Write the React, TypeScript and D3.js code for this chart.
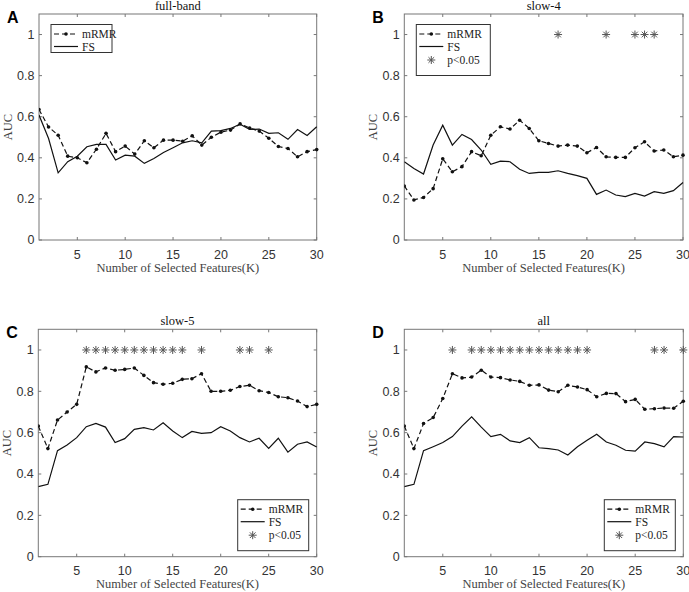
import React from "react";
import * as d3 from "d3";

const K = d3.range(1, 31);
const xTicks = [5, 10, 15, 20, 25, 30];
const yTicks = [0, 0.2, 0.4, 0.6, 0.8, 1];

const mrmrA = [0.635, 0.55, 0.51, 0.408, 0.4, 0.376, 0.442, 0.519, 0.43, 0.457, 0.418, 0.483, 0.449, 0.486, 0.486, 0.481, 0.507, 0.462, 0.5, 0.525, 0.535, 0.565, 0.545, 0.53, 0.495, 0.455, 0.445, 0.405, 0.43, 0.44];
const fsA = [0.608, 0.494, 0.327, 0.381, 0.408, 0.454, 0.465, 0.465, 0.389, 0.413, 0.408, 0.373, 0.397, 0.426, 0.449, 0.473, 0.483, 0.473, 0.53, 0.532, 0.543, 0.564, 0.538, 0.54, 0.519, 0.522, 0.49, 0.538, 0.509, 0.551];
const starsA: number[] = [];

const mrmrB = [0.263, 0.195, 0.207, 0.25, 0.395, 0.332, 0.357, 0.43, 0.41, 0.51, 0.551, 0.54, 0.583, 0.543, 0.483, 0.47, 0.457, 0.462, 0.457, 0.425, 0.45, 0.405, 0.402, 0.402, 0.449, 0.478, 0.433, 0.438, 0.405, 0.413];
const fsB = [0.381, 0.348, 0.321, 0.462, 0.559, 0.462, 0.514, 0.489, 0.438, 0.368, 0.384, 0.381, 0.344, 0.324, 0.329, 0.329, 0.337, 0.324, 0.313, 0.3, 0.222, 0.243, 0.219, 0.211, 0.227, 0.214, 0.235, 0.227, 0.24, 0.28];
const starsB = [17, 22, 25, 26, 27];

const mrmrC = [0.632, 0.523, 0.661, 0.7, 0.737, 0.918, 0.894, 0.913, 0.902, 0.906, 0.913, 0.877, 0.842, 0.834, 0.839, 0.858, 0.861, 0.885, 0.8, 0.8, 0.805, 0.823, 0.829, 0.803, 0.794, 0.774, 0.769, 0.753, 0.726, 0.737];
const fsC = [0.339, 0.35, 0.513, 0.54, 0.576, 0.629, 0.645, 0.627, 0.552, 0.571, 0.616, 0.624, 0.613, 0.648, 0.608, 0.576, 0.606, 0.597, 0.6, 0.629, 0.608, 0.576, 0.555, 0.573, 0.524, 0.573, 0.506, 0.544, 0.555, 0.531];
const starsC = [6, 7, 8, 9, 10, 11, 12, 13, 14, 15, 16, 18, 22, 23, 25];

const mrmrD = [0.632, 0.523, 0.644, 0.673, 0.765, 0.885, 0.865, 0.869, 0.902, 0.869, 0.866, 0.855, 0.848, 0.829, 0.831, 0.806, 0.798, 0.829, 0.821, 0.808, 0.774, 0.79, 0.789, 0.75, 0.761, 0.713, 0.716, 0.719, 0.718, 0.752];
const fsD = [0.339, 0.35, 0.513, 0.532, 0.552, 0.581, 0.632, 0.677, 0.627, 0.581, 0.592, 0.56, 0.552, 0.576, 0.527, 0.523, 0.516, 0.492, 0.532, 0.563, 0.592, 0.555, 0.539, 0.515, 0.511, 0.555, 0.547, 0.531, 0.581, 0.579];
const starsD = [6, 8, 9, 10, 11, 12, 13, 14, 15, 16, 17, 18, 19, 20, 27, 28, 30];

const panels = [
  { letter: "A", title: "full-band", mrmr: mrmrA, fs: fsA, stars: starsA, left: 39, right: 316.7, top: 14, bottom: 240, legend: "tl" },
  { letter: "B", title: "slow-4", mrmr: mrmrB, fs: fsB, stars: starsB, left: 404.3, right: 683, top: 14, bottom: 240, legend: "tl" },
  { letter: "C", title: "slow-5", mrmr: mrmrC, fs: fsC, stars: starsC, left: 38.3, right: 316.7, top: 329.3, bottom: 556.7, legend: "br" },
  { letter: "D", title: "all", mrmr: mrmrD, fs: fsD, stars: starsD, left: 404.3, right: 683.3, top: 329.3, bottom: 556.7, legend: "br" },
];

const AXIS = "#777";
const TXT = "#333";
const STAR = "#555";
const SERIF = "'Liberation Serif', 'Times New Roman', serif";
const SANS = "'Liberation Sans', Arial, sans-serif";

function Star({ x, y, s = 4 }: { x: number; y: number; s?: number }) {
  const d = s * 0.707;
  return (
    <path
      d={`M${x - s},${y}L${x + s},${y}M${x},${y - s}L${x},${y + s}M${x - d},${y - d}L${x + d},${y + d}M${x - d},${y + d}L${x + d},${y - d}`}
      stroke={STAR}
      strokeWidth={1}
      fill="none"
    />
  );
}

function Panel({ p, idx }: { p: any; idx: number }) {
  const x = d3.scaleLinear().domain([1, 30]).range([p.left, p.right]);
  const y = d3.scaleLinear().domain([0, 1.1]).range([p.bottom, p.top]);
  const line = d3.line<number>().x((_, i) => x(K[i])).y((v) => y(v));
  const clipId = `clip${idx}`;
  const hasStars = p.stars.length > 0;
  const lw = p.legend === "tl" ? (hasStars ? 74 : 61) : 71;
  const lh = hasStars ? 51 : 28;
  const lx0 = p.legend === "tl" ? p.left + 12 : p.right - lw - 8;
  const ly0 = p.legend === "tl" ? p.top + 10.5 : p.bottom - lh - 6;
  const rows = [ly0 + 9.5, ly0 + 22, ly0 + 35.5];
  const sx0 = lx0 + 3;
  const sx1 = lx0 + 27;
  const tx = lx0 + 31;
  return (
    <g>
      <defs>
        <clipPath id={clipId}>
          <rect x={p.left} y={p.top - 6} width={p.right - p.left + 6} height={p.bottom - p.top + 6} />
        </clipPath>
      </defs>
      <rect x={p.left} y={p.top} width={p.right - p.left} height={p.bottom - p.top} fill="#fff" stroke={AXIS} strokeWidth={1} />
      {xTicks.map((t) => (
        <g key={"xt" + t}>
          <line x1={x(t)} x2={x(t)} y1={p.bottom} y2={p.bottom - 3} stroke={AXIS} />
          <line x1={x(t)} x2={x(t)} y1={p.top} y2={p.top + 3} stroke={AXIS} />
          <text x={x(t)} y={p.bottom + 18.5} textAnchor="middle" fontFamily={SANS} fontSize={12.5} fill={TXT}>
            {t}
          </text>
        </g>
      ))}
      {yTicks.map((t) => (
        <g key={"yt" + t}>
          <line x1={p.left} x2={p.left + 3} y1={y(t)} y2={y(t)} stroke={AXIS} />
          <line x1={p.right} x2={p.right - 3} y1={y(t)} y2={y(t)} stroke={AXIS} />
          <text x={p.left - 4.5} y={y(t) + 4.4} textAnchor="end" fontFamily={SANS} fontSize={12.5} fill={TXT}>
            {String(t)}
          </text>
        </g>
      ))}
      <g clipPath={`url(#${clipId})`}>
        <path d={line(p.fs) || ""} fill="none" stroke="#111" strokeWidth={1.2} />
        <path d={line(p.mrmr) || ""} fill="none" stroke="#111" strokeWidth={1.2} strokeDasharray="5,3" />
        {p.mrmr.map((v: number, i: number) => (
          <circle key={"m" + i} cx={x(K[i])} cy={y(v)} r={1.8} fill="#111" />
        ))}
        {p.stars.map((k: number) => (
          <Star key={"s" + k} x={x(k)} y={y(1)} />
        ))}
      </g>
      <text x={(p.left + p.right) / 2} y={p.top - 4} textAnchor="middle" fontFamily={SERIF} fontSize={12.5} fill="#111">
        {p.title}
      </text>
      <text x={(p.left + p.right) / 2} y={p.bottom + 31.5} textAnchor="middle" fontFamily={SERIF} fontSize={12.5} fill="#444">
        Number of Selected Features(K)
      </text>
      <text
        transform={`translate(${p.left - 27},${(p.top + p.bottom) / 2}) rotate(-90)`}
        textAnchor="middle"
        fontFamily={SERIF}
        fontSize={12.5}
        fill="#444"
      >
        AUC
      </text>
      <text x={p.left - 32} y={p.top + 9} fontFamily={SANS} fontWeight="bold" fontSize={16} fill="#000">
        {p.letter}
      </text>
      <g>
        <rect x={lx0} y={ly0} width={lw} height={lh} fill="#fff" stroke="#333" strokeWidth={1} />
        <line x1={sx0} x2={sx1} y1={rows[0]} y2={rows[0]} stroke="#111" strokeWidth={1.2} strokeDasharray="5,3" />
        <circle cx={(sx0 + sx1) / 2} cy={rows[0]} r={1.8} fill="#111" />
        <text x={tx} y={rows[0] + 4} fontFamily={SERIF} fontSize={11.5} fill="#222">mRMR</text>
        <line x1={sx0} x2={sx1} y1={rows[1]} y2={rows[1]} stroke="#111" strokeWidth={1.2} />
        <text x={tx} y={rows[1] + 4} fontFamily={SERIF} fontSize={11.5} fill="#222">FS</text>
        {hasStars && (
          <g>
            <Star x={(sx0 + sx1) / 2} y={rows[2]} />
            <text x={tx} y={rows[2] + 4} fontFamily={SERIF} fontSize={11.5} fill="#222">p&lt;0.05</text>
          </g>
        )}
      </g>
    </g>
  );
}

export default function App() {
  return (
    <svg width={689} height={592} style={{ position: "absolute", left: 0, top: 0, background: "#fff" }}>
      <rect width={689} height={592} fill="#fff" />
      {panels.map((p, i) => (
        <Panel key={p.letter} p={p} idx={i} />
      ))}
    </svg>
  );
}
